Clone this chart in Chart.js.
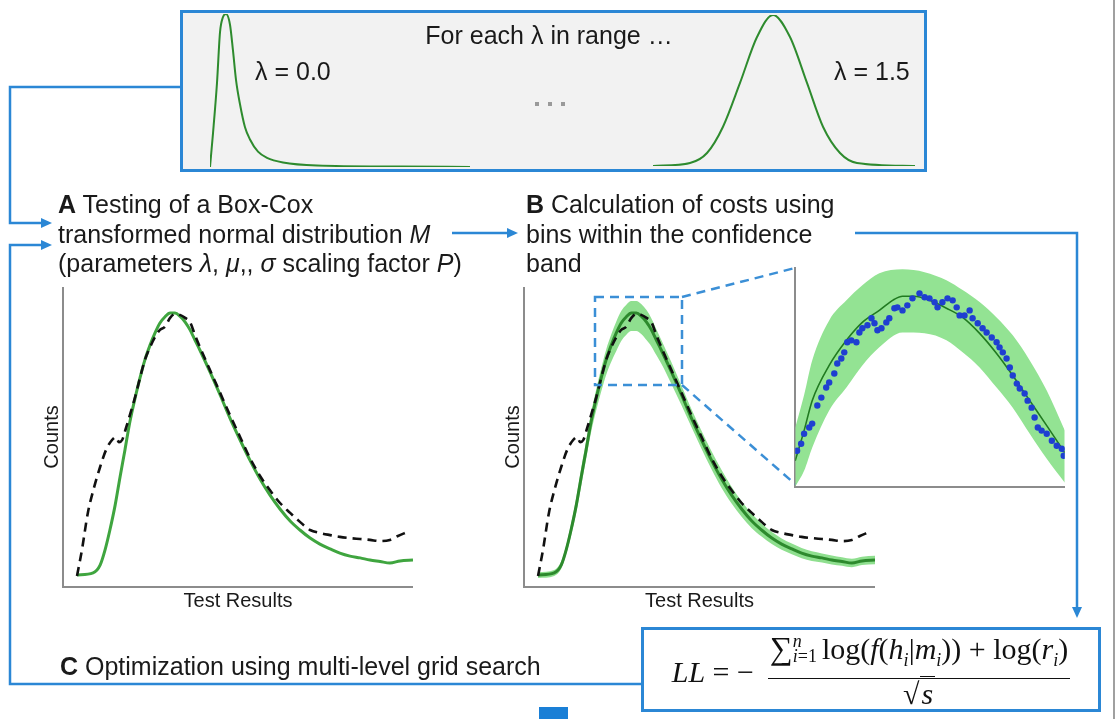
<!DOCTYPE html>
<html><head><meta charset="utf-8">
<script src="https://cdn.jsdelivr.net/npm/chart.js@4.4.1/dist/chart.umd.min.js"></script>
<style>
html,body{margin:0;padding:0;background:#fff;}
body{width:1117px;height:719px;position:relative;overflow:hidden;font-family:"Liberation Sans",Arial,sans-serif;color:#1a1a1a;}
.t{position:absolute;white-space:nowrap;font-size:25px;line-height:25px;}
.blk{position:absolute;white-space:nowrap;font-size:25px;line-height:29.5px;}
canvas{position:absolute;}
svg{position:absolute;left:0;top:0;}
.dots span{position:absolute;width:4px;height:4px;background:#9a9a9a;}
#formula{position:absolute;left:642px;top:628px;width:458px;height:83px;display:flex;align-items:center;justify-content:center;font-family:"Liberation Serif","Times New Roman",serif;font-size:30px;color:#111;}
.frac{display:inline-flex;flex-direction:column;align-items:center;vertical-align:middle;margin-left:14px;}
.num{padding:0 2px 1px 2px;border-bottom:1.5px solid #111;white-space:nowrap;line-height:33px;}
.den{line-height:29px;}
.lim{display:inline-flex;flex-direction:column;font-size:18px;line-height:15px;vertical-align:middle;margin-right:5px;position:relative;top:-3px;}
.num sub{font-size:18px;}
</style></head><body>

<svg id="bg" width="1117" height="719">
  <rect x="181.5" y="11.5" width="744" height="159" fill="#f2f2f2" stroke="#2b87d5" stroke-width="3"/>
  <rect x="642.5" y="628.5" width="457" height="82" fill="#ffffff" stroke="#2b87d5" stroke-width="3"/>
  <line x1="1114" y1="0" x2="1114" y2="719" stroke="#a0a0a0" stroke-width="2"/>
  <rect x="539" y="707" width="29" height="12" fill="#1a7fd6"/>
</svg>

<canvas id="topL"></canvas>
<canvas id="topR"></canvas>
<canvas id="chartA"></canvas>
<canvas id="chartB"></canvas>
<canvas id="inset"></canvas>

<svg id="fg" width="1117" height="719">
  <g stroke="#2b87d5" stroke-width="2.5" fill="none">
    <path d="M180 87 H10 V223 H42"/>
    <path d="M642 684 H10 V245 H42"/>
    <path d="M452 233 H508"/>
    <path d="M855 233 H1077 V608"/>
  </g>
  <g fill="#2b87d5">
    <polygon points="52,223 41,218 41,228"/>
    <polygon points="52,245 41,240 41,250"/>
    <polygon points="518,233 507,228 507,238"/>
    <polygon points="1077,618 1072,607 1082,607"/>
  </g>
  <g stroke="#3b8fd6" stroke-width="2.5" stroke-dasharray="9,6" fill="none">
    <rect x="595" y="297" width="87" height="88"/>
    <line x1="682" y1="297" x2="795" y2="268"/>
    <line x1="682" y1="385" x2="795" y2="484"/>
  </g>
</svg>

<div class="t" style="left:549px;top:23px;transform:translateX(-50%);">For each λ in range …</div>
<div class="t" style="left:255px;top:59px;">λ = 0.0</div>
<div class="t" style="left:834px;top:59px;">λ = 1.5</div>
<div class="dots"><span style="left:535px;top:102px"></span><span style="left:548px;top:102px"></span><span style="left:561px;top:102px"></span></div>

<div class="blk" style="left:58px;top:190px;"><b>A</b> Testing of a Box-Cox<br>transformed normal distribution <i>M</i><br>(parameters <i>λ</i>, <i>μ</i>,, <i>σ</i> scaling factor <i>P</i>)</div>
<div class="blk" style="left:526px;top:190px;"><b>B</b> Calculation of costs using<br>bins within the confidence<br>band</div>
<div class="t" style="left:60px;top:654px;"><b>C</b> Optimization using multi-level grid search</div>

<div id="formula">
  <span style="position:relative;top:2px"><i>LL</i> = −</span>
  <span class="frac">
    <span class="num"><span style="font-size:32px">∑</span><span class="lim"><span><i>n</i></span><span><i>i</i>=1</span></span>log(<i>f</i>(<i>h</i><sub><i>i</i></sub>|<i>m</i><sub><i>i</i></sub>)) + log(<i>r</i><sub><i>i</i></sub>)</span>
    <span class="den">√<span style="border-top:1.5px solid #111;padding:0 2px"><i>s</i></span></span>
  </span>
</div>

<script>
// ---- Top panel: Box-Cox transformed densities ----
const lam0X = [0, 3, 7, 10, 13, 16, 20, 23, 26, 30, 35, 40, 48, 57, 73, 107, 190, 260];
const lam0Y = [0, 22, 55, 88, 98, 100, 93, 76, 57, 41, 26, 18, 10, 6, 3, 1, 0.3, 0];
const lam15X = [0, 37, 54, 70, 87, 104, 120, 137, 154, 170, 187, 204, 262];
const lam15Y = [0, 2, 8.6, 26, 55, 85.4, 100, 85.4, 55, 26, 8.6, 2, 0];

// ---- Panels A and B: fitted model (green) ----
const fitX = [4.0, 8.6, 10.6, 12.0, 13.4, 14.9, 16.3, 17.7, 19.1, 20.6, 22.0, 23.4, 24.9, 26.3, 27.7, 29.1, 30.6, 32.0, 33.4, 34.9, 36.3, 37.7, 39.1, 42.0, 44.9, 47.7, 50.6, 53.4, 56.3, 59.1, 62.0, 64.9, 67.7, 70.6, 73.4, 76.3, 79.1, 82.0, 84.9, 87.7, 90.6, 93.4, 96.3, 100];
const fitY = [4.0, 4.7, 7.3, 12.3, 19.0, 27.3, 36.7, 45.7, 55.0, 63.0, 69.7, 75.7, 80.7, 84.7, 88.0, 90.0, 91.3, 91.3, 90.3, 88.3, 85.7, 82.3, 79.0, 71.7, 64.0, 56.3, 49.0, 42.3, 36.0, 30.7, 26.0, 22.0, 19.0, 16.3, 14.3, 12.7, 11.3, 10.3, 9.7, 9.0, 8.5, 8.0, 8.7, 9.0];
// confidence band (panel B)
const bandHi = [5.0, 5.7, 8.5, 13.8, 21.0, 29.8, 39.7, 48.7, 58.0, 66.0, 72.9, 79.1, 84.3, 88.5, 92.0, 94.0, 95.3, 95.3, 94.3, 92.3, 89.5, 85.9, 82.4, 74.9, 67.0, 59.3, 52.0, 45.3, 39.0, 33.5, 28.6, 24.4, 21.2, 18.3, 16.2, 14.5, 13.0, 11.9, 11.2, 10.5, 9.9, 9.4, 10.1, 10.4];
const bandLo = [3.0, 3.7, 6.1, 10.8, 17.0, 24.8, 33.7, 42.7, 51.5, 59.0, 65.2, 70.7, 75.2, 78.7, 82.0, 84.0, 85.3, 85.3, 84.3, 82.3, 80.2, 77.3, 74.5, 67.7, 60.5, 53.3, 46.0, 39.3, 33.0, 27.9, 23.4, 19.6, 16.8, 14.3, 12.4, 10.9, 9.6, 8.7, 8.2, 7.5, 7.1, 6.6, 7.3, 7.6];

// ---- Panels A and B: observed histogram (dashed) ----
const obsX = [4.0, 5.4, 7.1, 8.9, 10.6, 12.3, 14.0, 15.1, 16.0, 16.9, 18.0, 19.1, 20.6, 22.0, 23.4, 24.9, 26.3, 27.7, 29.1, 30.6, 32.0, 33.4, 34.9, 36.3, 37.7, 39.1, 42.0, 44.9, 47.7, 50.6, 53.4, 56.3, 59.1, 62.0, 64.9, 67.7, 69.1, 70.6, 73.4, 76.3, 79.1, 82.0, 84.9, 87.7, 90.6, 93.4, 95.7, 98.3];
const obsY = [3.7, 12.3, 24.7, 33.3, 40.0, 45.7, 49.0, 50.0, 48.3, 49.0, 53.0, 57.3, 63.3, 69.7, 75.7, 80.0, 83.3, 85.7, 86.7, 89.7, 91.0, 90.7, 89.7, 88.3, 84.0, 80.0, 72.3, 64.7, 57.3, 50.0, 43.0, 37.0, 32.3, 28.0, 24.7, 21.7, 20.3, 19.0, 18.0, 17.3, 16.7, 16.3, 16.0, 15.7, 15.3, 15.7, 17.0, 18.3];

// ---- Inset (zoom of the peak) ----
const zoomFitX = [0, 3.3, 6.3, 12.6, 19, 24.9, 31.2, 36.8, 39.8, 44.2, 49.8, 56.1, 62.1, 68.4, 74.7, 80.7, 87, 93.3, 100];
const zoomFitY = [11.9, 25.7, 39.4, 55.5, 67, 75.2, 80.7, 85.8, 87.2, 87.2, 85.3, 81.7, 77.5, 70.2, 61, 50.9, 39.4, 28, 15.6];
const zoomBandX = [0, 3.3, 6.3, 12.6, 19, 24.9, 31.2, 39.8, 48, 56.1, 62.1, 68.4, 74.7, 80.7, 87, 93.3, 100];
const zoomBandHi = [27, 42, 57.8, 76.1, 85.3, 92.2, 97.7, 99.5, 98.2, 94.5, 90, 84.5, 77.5, 69.3, 57.8, 44, 25.7];
const zoomBandLo = [0, 7.3, 17.9, 34.9, 45.4, 55.5, 63.8, 70.6, 70.2, 67, 61.5, 54.6, 45.4, 36.2, 24.3, 12.8, 1.8];
const zoomObsX = [0.7, 2.2, 3.3, 5.2, 6.3, 8.2, 9.7, 11.5, 12.6, 14.5, 15.6, 17.1, 18.2, 19.3, 20.8, 22.7, 23.8, 24.9, 26.8, 28.3, 29.4, 30.5, 32.0, 33.8, 34.9, 36.8, 37.9, 39.8, 41.6, 43.5, 46.1, 48.0, 49.8, 51.7, 52.8, 54.6, 56.5, 58.4, 59.9, 61.0, 62.8, 64.7, 65.8, 67.7, 69.5, 71.0, 72.9, 74.7, 75.8, 77.0, 78.4, 79.6, 80.7, 82.2, 83.3, 85.1, 86.2, 87.7, 88.8, 90.0, 91.4, 93.3, 95.2, 97.0, 98.9, 99.6];
const zoomObsY = [16.5, 19.7, 24.3, 27.1, 28.9, 37.2, 40.8, 45.4, 47.7, 51.8, 56.4, 58.7, 61.5, 66.1, 67.0, 66.1, 70.6, 72.5, 73.9, 77.1, 74.8, 71.6, 72.5, 75.2, 77.1, 81.7, 82.1, 80.7, 83.0, 86.2, 88.5, 86.7, 86.2, 84.4, 82.1, 84.4, 86.2, 85.3, 82.1, 78.4, 78.4, 80.7, 77.1, 74.8, 72.5, 70.6, 68.3, 66.1, 63.8, 61.5, 58.7, 54.6, 50.9, 47.2, 45.0, 42.7, 39.4, 36.2, 31.7, 27.1, 25.7, 24.3, 21.1, 18.8, 17.4, 14.2];

const pts = (xs, ys) => xs.map((x, i) => ({x: x, y: ys[i]}));

Chart.defaults.font.family = '"Liberation Sans", Arial, sans-serif';
Chart.defaults.color = '#1a1a1a';

function lineDs(xs, ys, color, width, extra) {
  return Object.assign({data: pts(xs, ys), showLine: true, borderColor: color, backgroundColor: color,
    borderWidth: width, pointRadius: 0, pointHoverRadius: 0, cubicInterpolationMode: 'monotone', fill: false}, extra || {});
}

function axis(min, max, show, titleText, isX) {
  const s = {type: 'linear', min: min, max: max, display: show,
    grid: {display: false, drawTicks: false}, ticks: {display: false},
    border: {display: true, color: '#8c8c8c', width: 2}};
  if (titleText) {
    s.title = {display: true, text: titleText, color: '#1a1a1a', font: {size: 20, lineHeight: 1.1},
      padding: isX ? {top: 3, bottom: 0} : {top: 0, bottom: 0}};
  }
  return s;
}

function opts(xmin, xmax, ymin, ymax, show, xt, yt) {
  return {responsive: false, maintainAspectRatio: false, animation: false, events: [],
    layout: {padding: 0},
    plugins: {legend: {display: false}, tooltip: {enabled: false}},
    scales: {x: axis(xmin, xmax, show, xt, true), y: axis(ymin, ymax, show, yt, false)}};
}

function mount(id, rect, make) {
  const cv = document.getElementById(id);
  cv.width = rect.w + 100; cv.height = rect.h + 100;
  let ch = new Chart(cv, make());
  const ca = ch.chartArea;
  const l = ca.left, t = ca.top, r = ch.width - ca.right, b = ch.height - ca.bottom;
  ch.destroy();
  const W = Math.round(rect.w + l + r), H = Math.round(rect.h + t + b);
  cv.width = W; cv.height = H;
  cv.style.width = W + 'px'; cv.style.height = H + 'px';
  cv.style.left = (rect.x - l) + 'px'; cv.style.top = (rect.y - t) + 'px';
  return new Chart(cv, make());
}

const topGreen = '#2e8b2e';
mount('topL', {x: 210, y: 14, w: 260, h: 153}, () => ({type: 'scatter',
  data: {datasets: [lineDs(lam0X, lam0Y, topGreen, 2, {clip: false})]},
  options: opts(0, 260, 0, 100, false)}));
mount('topR', {x: 653, y: 15, w: 262, h: 151}, () => ({type: 'scatter',
  data: {datasets: [lineDs(lam15X, lam15Y, topGreen, 2, {clip: false})]},
  options: opts(0, 262, 0, 100, false)}));

mount('chartA', {x: 63, y: 287, w: 350, h: 300}, () => ({type: 'scatter',
  data: {datasets: [
    lineDs(obsX, obsY, '#111111', 2.6, {borderDash: [9, 6], order: 0}),
    lineDs(fitX, fitY, '#3fa53f', 3, {order: 1})
  ]},
  options: opts(0, 100, 0, 100, true, 'Test Results', 'Counts')}));

mount('chartB', {x: 524, y: 287, w: 351, h: 300}, () => ({type: 'scatter',
  data: {datasets: [
    lineDs(obsX, obsY, '#111111', 2.6, {borderDash: [9, 6], order: 0}),
    lineDs(fitX, fitY, '#2d8a2d', 3, {order: 1}),
    lineDs(fitX, bandHi, 'rgba(0,0,0,0)', 0, {order: 2, fill: '+1', backgroundColor: '#8fdf8f'}),
    lineDs(fitX, bandLo, 'rgba(0,0,0,0)', 0, {order: 3})
  ]},
  options: opts(0, 100, 0, 100, true, 'Test Results', 'Counts')}));

mount('inset', {x: 795, y: 268, w: 270, h: 219}, () => ({type: 'scatter',
  data: {datasets: [
    {data: pts(zoomObsX, zoomObsY), showLine: false, pointRadius: 3.2, pointHoverRadius: 0,
      backgroundColor: '#1f3fd1', borderColor: '#1f3fd1', borderWidth: 0, order: 0},
    lineDs(zoomFitX, zoomFitY, '#217a21', 1.6, {order: 1}),
    lineDs(zoomBandX, zoomBandHi, 'rgba(0,0,0,0)', 0, {order: 2, fill: '+1', backgroundColor: '#93e393'}),
    lineDs(zoomBandX, zoomBandLo, 'rgba(0,0,0,0)', 0, {order: 3})
  ]},
  options: opts(0, 100, 0, 100, true)}));
</script>
</body></html>
